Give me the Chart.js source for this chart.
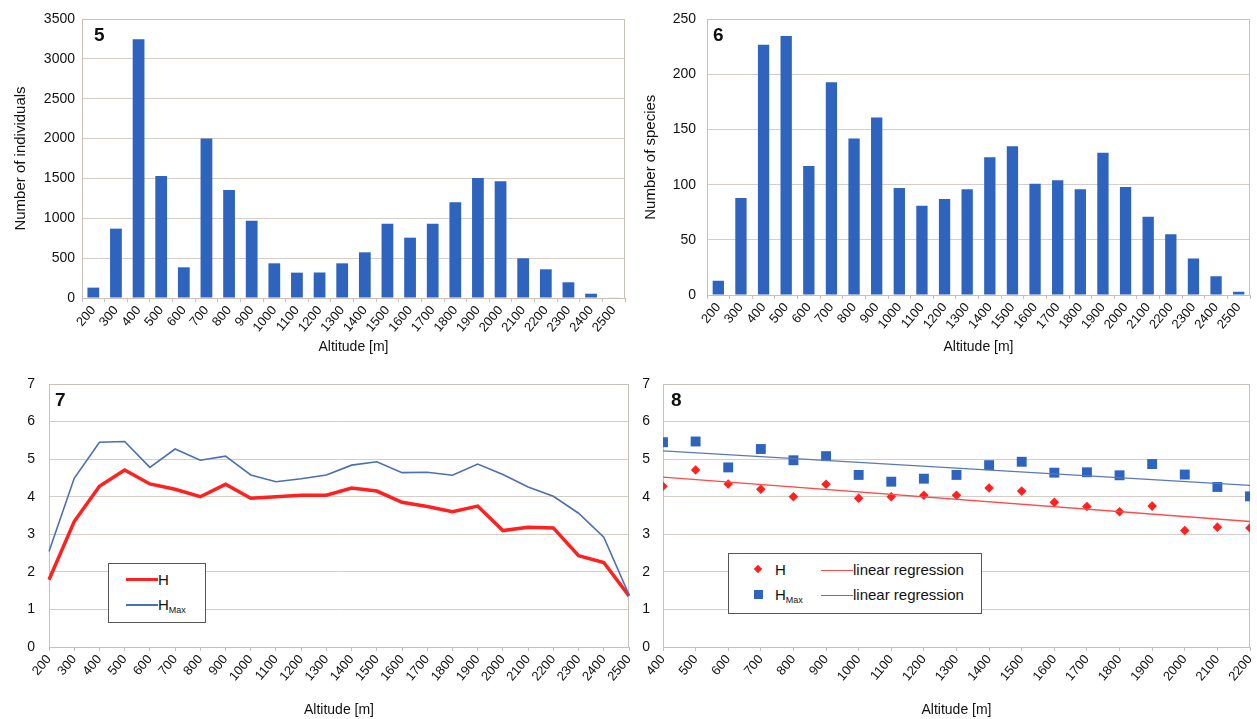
<!DOCTYPE html>
<html>
<head>
<meta charset="utf-8">
<script src="https://cdn.jsdelivr.net/npm/chart.js@4/dist/chart.umd.min.js"></script>
<style>
  html, body { margin: 0; padding: 0; background: #fff; }
  #wrap { position: relative; width: 1257px; height: 719px; background: #fff; font-family: "Liberation Sans", Arial, sans-serif; color: #111; }
  canvas { position: absolute; }
  .num { position: absolute; font-weight: bold; font-size: 19px; line-height: 20px; }
  .legend { position: absolute; border: 1.5px solid #555; background: #fff; box-sizing: border-box; }
  .item { position: absolute; font-size: 15px; line-height: 16px; white-space: nowrap; }
  .item sub { font-size: 9px; vertical-align: -3px; }
  .ln { position: absolute; }
  .mk { position: absolute; }
</style>
</head>
<body>
<div id="wrap">
  <canvas id="c5" width="630" height="360" style="left:0;top:0"></canvas>
  <canvas id="c6" width="627" height="360" style="left:630px;top:0"></canvas>
  <canvas id="c7" width="630" height="359" style="left:0;top:360px"></canvas>
  <canvas id="c8" width="627" height="359" style="left:630px;top:360px"></canvas>

  <div class="num" style="left:94px;top:25px">5</div>
  <div class="num" style="left:713px;top:25px">6</div>
  <div class="num" style="left:55px;top:390px">7</div>
  <div class="num" style="left:671px;top:390px">8</div>

  <div class="legend" style="left:108px;top:563px;width:98px;height:60px">
    <div class="ln" style="left:17px;top:14px;width:32px;height:3px;background:#ff2020"></div>
    <div class="item" style="left:49px;top:8px">H</div>
    <div class="ln" style="left:17px;top:40px;width:32px;height:1.5px;background:#4a6fb5"></div>
    <div class="item" style="left:49px;top:33px">H<sub>Max</sub></div>
  </div>

  <div class="legend" style="left:728px;top:553px;width:254px;height:61px">
    <div class="mk" style="left:26px;top:12px;width:6px;height:6px;background:#ff2020;transform:rotate(45deg)"></div>
    <div class="item" style="left:46px;top:8px">H</div>
    <div class="mk" style="left:25px;top:36px;width:9px;height:9px;background:#2e63be"></div>
    <div class="item" style="left:46px;top:33px">H<sub>Max</sub></div>
    <div class="ln" style="left:92px;top:16px;width:32px;height:1.2px;background:#ff4a4a"></div>
    <div class="item" style="left:124px;top:8px">linear regression</div>
    <div class="ln" style="left:92px;top:41px;width:32px;height:1.2px;background:#5a78b5"></div>
    <div class="item" style="left:124px;top:33px">linear regression</div>
  </div>
</div>
<script>
// ---------- data ----------
const altitudes = ['200','300','400','500','600','700','800','900','1000','1100','1200','1300',
                   '1400','1500','1600','1700','1800','1900','2000','2100','2200','2300','2400','2500'];
const individuals = [130, 870, 3245, 1530, 385, 2000, 1355, 970, 435, 318, 320, 435,
                     573, 932, 757, 932, 1200, 1505, 1464, 498, 360, 197, 54, 5];
const species = [13, 88, 227, 235, 117, 193, 142, 161, 97, 81, 87, 96,
                 125, 135, 101, 104, 96, 129, 98, 71, 55, 33, 17, 3];
const H = [1.79, 3.34, 4.28, 4.71, 4.34, 4.20, 4.00, 4.33, 3.96, 4.00, 4.04, 4.04,
           4.23, 4.15, 3.85, 3.74, 3.60, 3.75, 3.10, 3.19, 3.17, 2.43, 2.25, 1.36];
const Hmax = [2.54, 4.49, 5.45, 5.47, 4.78, 5.27, 4.97, 5.08, 4.58, 4.40, 4.48, 4.58,
              4.84, 4.93, 4.64, 4.65, 4.57, 4.87, 4.59, 4.26, 4.01, 3.56, 2.92, 1.39];
// panel 8 range (400–2200 m)
const scatterFrom = 2, scatterTo = 21;
const regX = [400, 2200];
const regH = [4.52, 3.34];
const regHmax = [5.22, 4.30];

// ---------- styles ----------
const FONT = '"Liberation Sans", Arial, sans-serif';
const GRID = '#d6cec6';
const FRAME = '#c9c1b9';
const TXT = '#111';
const BAR = '#2e63be';
const RED = '#ff2020';
const BLUE = '#4a6fb5';

const frame = {
  id: 'frame',
  beforeDatasetsDraw(chart) {
    const {ctx, chartArea: a} = chart;
    ctx.save();
    ctx.strokeStyle = FRAME;
    ctx.lineWidth = 1;
    ctx.strokeRect(Math.round(a.left) + 0.5, Math.round(a.top) + 0.5,
                   Math.round(a.width) - 1, Math.round(a.height));
    ctx.restore();
  }
};

function fixW(w) { return s => { s.width = w; }; }
function fixH(h) { return s => { s.height = h; s.paddingLeft = 0; s.paddingRight = 0; }; }

function xAxis(h, titlePad, extra) {
  return Object.assign({
    afterFit: fixH(h),
    grid: { drawOnChartArea: false, color: FRAME, tickLength: 4 },
    border: { color: FRAME },
    ticks: { color: TXT, font: { family: FONT, size: 13 }, minRotation: 50, maxRotation: 50,
             autoSkip: false, padding: 1 },
    title: { display: true, text: 'Altitude [m]', color: TXT, font: { family: FONT, size: 14 },
             padding: { top: 0, bottom: titlePad } }
  }, extra || {});
}
function yAxis(w, max, step, title, pad) {
  const o = {
    afterFit: fixW(w),
    min: 0, max: max,
    grid: { color: GRID, drawTicks: false },
    border: { color: FRAME },
    ticks: { stepSize: step, color: TXT, font: { family: FONT, size: 14 }, padding: pad,
             callback: v => String(v) }
  };
  if (title) o.title = { display: true, text: title, color: TXT, font: { family: FONT, size: 15 },
                         padding: { top: 12, bottom: 0 } };
  return o;
}
const common = {
  responsive: false, animation: false, devicePixelRatio: 1,
  plugins: { legend: { display: false }, tooltip: { enabled: false } }
};

// ---------- panel 5 ----------
new Chart(document.getElementById('c5'), {
  type: 'bar',
  data: { labels: altitudes, datasets: [{ data: individuals, backgroundColor: BAR,
          barPercentage: 0.52, categoryPercentage: 1 }] },
  options: Object.assign({}, common, {
    layout: { padding: { left: 0, right: 5, top: 19, bottom: 0 } },
    scales: { x: xAxis(62, 4), y: yAxis(82, 3500, 500, 'Number of individuals', 7) }
  }),
  plugins: [frame]
});

// ---------- panel 6 ----------
new Chart(document.getElementById('c6'), {
  type: 'bar',
  data: { labels: altitudes, datasets: [{ data: species, backgroundColor: BAR,
          barPercentage: 0.5, categoryPercentage: 1 }] },
  options: Object.assign({}, common, {
    layout: { padding: { left: 0, right: 7, top: 18, bottom: 0 } },
    scales: { x: xAxis(65, 4), y: yAxis(77, 250, 50, 'Number of species', 11) }
  }),
  plugins: [frame]
});

// ---------- panel 7 ----------
new Chart(document.getElementById('c7'), {
  type: 'line',
  data: { labels: altitudes, datasets: [
    { data: Hmax, borderColor: BLUE, borderWidth: 1.6, pointRadius: 0, tension: 0 },
    { data: H, borderColor: RED, borderWidth: 3.5, pointRadius: 0, tension: 0 }
  ] },
  options: Object.assign({}, common, {
    layout: { padding: { left: 0, right: 1, top: 24, bottom: 0 } },
    scales: {
      x: xAxis(72, 0, { offset: false, grid: { drawOnChartArea: false, color: FRAME, tickLength: 4, offset: false } }),
      y: yAxis(49, 7, 1, null, 14)
    }
  }),
  plugins: [frame]
});

// ---------- panel 8 ----------
const xs = altitudes.slice(scatterFrom, scatterTo).map(Number);
const ptsH = xs.map((x, i) => ({ x: x, y: H[scatterFrom + i] }));
const ptsHmax = xs.map((x, i) => ({ x: x, y: Hmax[scatterFrom + i] }));
new Chart(document.getElementById('c8'), {
  type: 'scatter',
  data: { datasets: [
    { data: regX.map((x, i) => ({ x: x, y: regHmax[i] })), showLine: true, borderColor: '#5a78b5',
      borderWidth: 1.3, pointRadius: 0 },
    { data: regX.map((x, i) => ({ x: x, y: regH[i] })), showLine: true, borderColor: '#ff4a4a',
      borderWidth: 1.3, pointRadius: 0 },
    { data: ptsHmax, pointStyle: 'rect', pointRadius: 7, backgroundColor: BAR, borderWidth: 0 },
    { data: ptsH, pointStyle: 'rectRot', pointRadius: 4.8, backgroundColor: RED, borderWidth: 0 }
  ] },
  options: Object.assign({}, common, {
    layout: { padding: { left: 0, right: 5, top: 24, bottom: 0 } },
    scales: {
      x: xAxis(72, 0, { type: 'linear', min: 400, max: 2200, offset: false,
        ticks: { stepSize: 100, color: TXT, font: { family: FONT, size: 13 }, minRotation: 50, maxRotation: 50,
                 autoSkip: false, padding: 1, callback: v => String(v) } }),
      y: yAxis(33, 7, 1, null, 13)
    }
  }),
  plugins: [frame]
});
</script>
</body>
</html>
